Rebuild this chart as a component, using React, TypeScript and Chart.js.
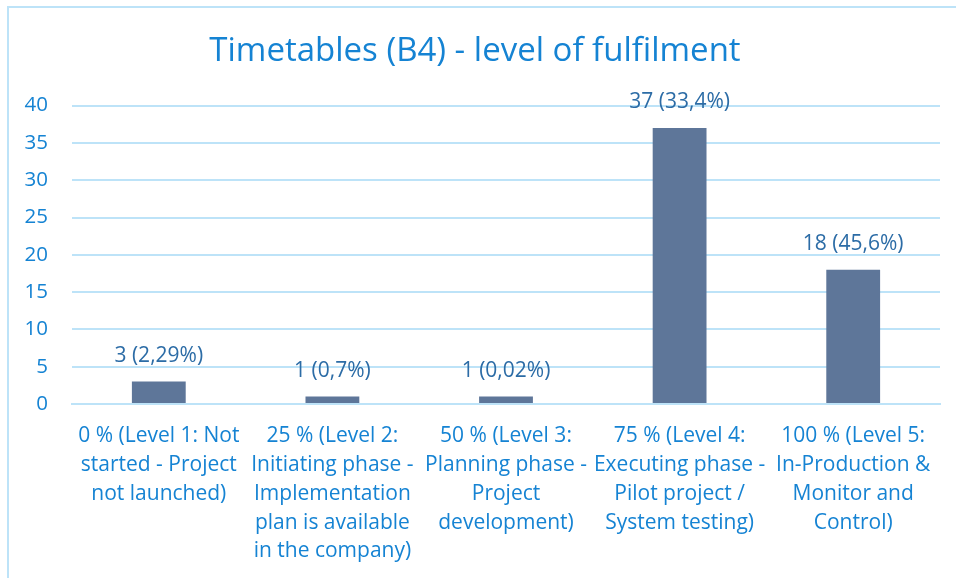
import React, { useEffect, useRef } from "react";
import { Chart, registerables } from "chart.js";

Chart.register(...registerables);

const categories: string[][] = [
  ["0 % (Level 1: Not", "started - Project", "not launched)"],
  ["25 % (Level 2:", "Initiating phase -", "Implementation", "plan is available", "in the company)"],
  ["50 % (Level 3:", "Planning phase -", "Project", "development)"],
  ["75 % (Level 4:", "Executing phase -", "Pilot project /", "System testing)"],
  ["100 % (Level 5:", "In-Production &", "Monitor and", "Control)"],
];
const values: number[] = [3, 1, 1, 37, 18];
const valueLabels: string[] = ["3 (2,29%)", "1 (0,7%)", "1 (0,02%)", "37 (33,4%)", "18 (45,6%)"];
const yTicks = { min: 0, max: 40, step: 5 };

const TEXT_BLUE = "#1583D3";
const LABEL_BLUE = "#2C6CA6";
const GRID = "#BDE3F8";
const BAR = "#5E7699";
const FONT = "'Open Sans', 'Noto Sans', sans-serif";

const dataLabelPlugin = {
  id: "dataLabels",
  afterDatasetsDraw(chart: any) {
    const ctx = chart.ctx;
    const meta = chart.getDatasetMeta(0);
    ctx.save();
    ctx.font = `21px ${FONT}`;
    ctx.fillStyle = LABEL_BLUE;
    ctx.textAlign = "center";
    ctx.textBaseline = "middle";
    meta.data.forEach((el: any, i: number) => {
      ctx.fillText(valueLabels[i], el.x, el.y - 26);
    });
    ctx.restore();
  },
};

export default function App() {
  const ref = useRef<HTMLCanvasElement | null>(null);
  useEffect(() => {
    if (!ref.current) return;
    const chart = new Chart(ref.current, {
      type: "bar",
      data: {
        labels: categories,
        datasets: [
          {
            data: values,
            backgroundColor: BAR,
            borderWidth: 0,
            barPercentage: 0.31,
            categoryPercentage: 1,
          },
        ],
      },
      options: {
        animation: false,
        responsive: false,
        maintainAspectRatio: false,
        layout: { padding: { left: 10, right: 16, top: 0, bottom: 0 } },
        plugins: {
          legend: { display: false },
          tooltip: { enabled: false },
          title: {
            display: true,
            text: "Timetables (B4) - level of fulfilment",
            color: TEXT_BLUE,
            font: { family: FONT, size: 33, weight: "normal", lineHeight: 1.2 },
            padding: { top: 32, bottom: 34 },
          },
        },
        scales: {
          x: {
            grid: { display: false, drawTicks: false },
            border: { display: true, color: GRID, width: 2 },
            ticks: {
              color: TEXT_BLUE,
              font: { family: FONT, size: 21, lineHeight: 1.37 },
              padding: 18,
              maxRotation: 0,
              autoSkip: false,
            },
            afterFit(scale: any) {
              scale.height = 174;
            },
          },
          y: {
            min: yTicks.min,
            max: yTicks.max,
            grid: { color: GRID, lineWidth: 2, drawTicks: false },
            border: { display: false },
            ticks: {
              stepSize: yTicks.step,
              color: TEXT_BLUE,
              font: { family: FONT, size: 20.5 },
              padding: 24,
            },
            afterFit(scale: any) {
              scale.width = 62;
            },
          },
        },
      },
      plugins: [dataLabelPlugin],
    });
    return () => chart.destroy();
  }, []);

  return (
    <div style={{ position: "absolute", left: 0, top: 0, width: 956, height: 578, background: "#fff", overflow: "hidden" }}>
      <div
        style={{
          position: "absolute",
          left: 7,
          top: 6,
          width: 1000,
          height: 600,
          borderLeft: `2px solid ${GRID}`,
          borderTop: `2px solid ${GRID}`,
        }}
      />
      <canvas ref={ref} width={956} height={578} style={{ position: "absolute", left: 0, top: 0 }} />
    </div>
  );
}
